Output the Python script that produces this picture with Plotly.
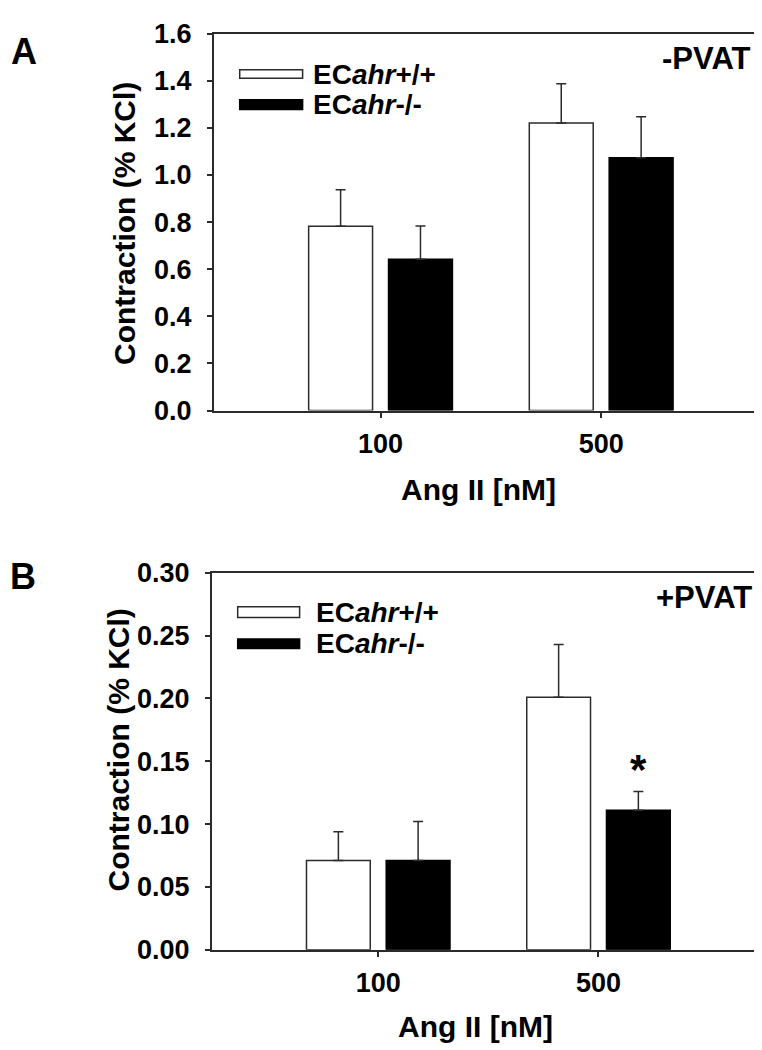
import plotly.graph_objects as go

# ---------------- data ----------------
categories = ["100", "500"]

a_wt = [0.783, 1.221]
a_wt_err = [0.154, 0.166]
a_ko = [0.642, 1.073]
a_ko_err = [0.142, 0.174]

b_wt = [0.071, 0.201]
b_wt_err = [0.023, 0.042]
b_ko = [0.071, 0.111]
b_ko_err = [0.031, 0.015]

a_yticks = [0.0, 0.2, 0.4, 0.6, 0.8, 1.0, 1.2, 1.4, 1.6]
b_yticks = [0.00, 0.05, 0.10, 0.15, 0.20, 0.25, 0.30]

series_names = ["EC<i>ahr</i>+/+", "EC<i>ahr</i>-/-"]
panel_labels = ["A", "B"]
conditions = ["-PVAT", "+PVAT"]
x_title = "Ang II [nM]"
y_title = "Contraction (% KCl)"
signif_marks = ["", "*"]  # for knockout bars in panel B

# ---------------- layout helpers ----------------
W, H = 762, 1050
FONT = "Liberation Sans, Arial, sans-serif"
INK = "#2b2b2b"


def px(x):
    return x / W


def py(y):
    return 1 - y / H


fig = go.Figure()


def add_pair(wt, wt_err, ko, ko_err, xa, ya):
    fig.add_trace(go.Bar(
        x=categories, y=wt, name=series_names[0], xaxis=xa, yaxis=ya,
        marker=dict(color="white", line=dict(color=INK, width=1.5)),
        error_y=dict(type="data", array=wt_err, arrayminus=[0] * len(wt),
                     symmetric=False, color=INK, thickness=1.5, width=5),
        showlegend=False, offsetgroup="wt"))
    fig.add_trace(go.Bar(
        x=categories, y=ko, name=series_names[1], xaxis=xa, yaxis=ya,
        marker=dict(color="black", line=dict(color="black", width=1.5)),
        error_y=dict(type="data", array=ko_err, arrayminus=[0] * len(ko),
                     symmetric=False, color=INK, thickness=1.5, width=5),
        showlegend=False, offsetgroup="ko"))


add_pair(a_wt, a_wt_err, a_ko, a_ko_err, "x", "y")
add_pair(b_wt, b_wt_err, b_ko, b_ko_err, "x2", "y2")

common_x = dict(type="category", range=[-0.756, 1.756], showline=True,
                linecolor=INK, linewidth=1.5, mirror=True, ticks="outside",
                ticklen=6, tickwidth=1.5, tickcolor=INK, showgrid=False,
                zeroline=False, ticklabelstandoff=2,
                tickfont=dict(family=FONT, size=27, color="black", weight="bold"))
common_y = dict(showline=True, linecolor=INK, linewidth=1.5, mirror=True,
                ticks="outside", ticklen=5, tickwidth=1.5, tickcolor=INK,
                showgrid=False, zeroline=False, ticklabelstandoff=10,
                tickfont=dict(family=FONT, size=27, color="black", weight="bold"))

fig.update_layout(
    width=W, height=H,
    margin=dict(l=0, r=0, t=0, b=0),
    paper_bgcolor="white", plot_bgcolor="white",
    font=dict(family=FONT, color="black", weight="bold"),
    barmode="group", bargap=0.276, bargroupgap=0.2,
    xaxis=dict(domain=[px(206), px(761)], anchor="y", **common_x),
    yaxis=dict(domain=[py(399), py(11)], anchor="x", range=[0, 1.6],
               tickvals=a_yticks, tickformat=".1f", **common_y),
    xaxis2=dict(domain=[px(204), px(758)], anchor="y2", **common_x),
    yaxis2=dict(domain=[py(954), py(566)], anchor="x2", range=[0, 0.30],
                tickvals=b_yticks, tickformat=".2f", **common_y),
)

ann = []
shapes = []


def txt(text, x, y, size, xanchor="center", angle=0):
    ann.append(dict(text=text, x=px(x), y=py(y), xref="paper", yref="paper",
                    showarrow=False, xanchor=xanchor, yanchor="middle",
                    textangle=angle,
                    font=dict(family=FONT, size=size, color="black", weight="bold")))


# panel-specific decorations (positions in pixels)
panels = [
    dict(label_xy=(16, 29), cond_xy=(745, 37), xt_xy=(471, 480), yt_xy=(116, 206),
         leg_x=(232, 295), leg_y=[(48, 57), (79, 89)], leg_tx=303),
    dict(label_xy=(15, 570), cond_xy=(747, 591), xt_xy=(468, 1033), yt_xy=(111, 748),
         leg_x=(230, 292), leg_y=[(601, 612), (634, 644)], leg_tx=306),
]
for i, p in enumerate(panels):
    txt(panel_labels[i], *p["label_xy"], 36)
    txt(conditions[i], *p["cond_xy"], 31, xanchor="right")
    txt(x_title, *p["xt_xy"], 30)
    txt(y_title, *p["yt_xy"], 30, angle=-90)
    fills = ["white", "black"]
    for k in range(2):
        y0, y1 = p["leg_y"][k]
        shapes.append(dict(type="rect", xref="paper", yref="paper",
                           x0=px(p["leg_x"][0]), x1=px(p["leg_x"][1]),
                           y0=py(y1), y1=py(y0), fillcolor=fills[k],
                           line=dict(color=INK if k == 0 else "black", width=1.5)))
        txt(series_names[k], p["leg_tx"], (y0 + y1) / 2, 28, xanchor="left")

# significance marker above knockout 500 nM bar in panel B
for j, mark in enumerate(signif_marks):
    if mark:
        ann.append(dict(text=mark, x=j, y=b_ko[j] + b_ko_err[j],
                        xref="x2", yref="y2", xshift=40, yshift=-4,
                        showarrow=False, yanchor="bottom",
                        font=dict(family=FONT, size=42, color="black", weight="bold")))

fig.update_layout(annotations=ann, shapes=shapes)
fig.write_html("out.html")
